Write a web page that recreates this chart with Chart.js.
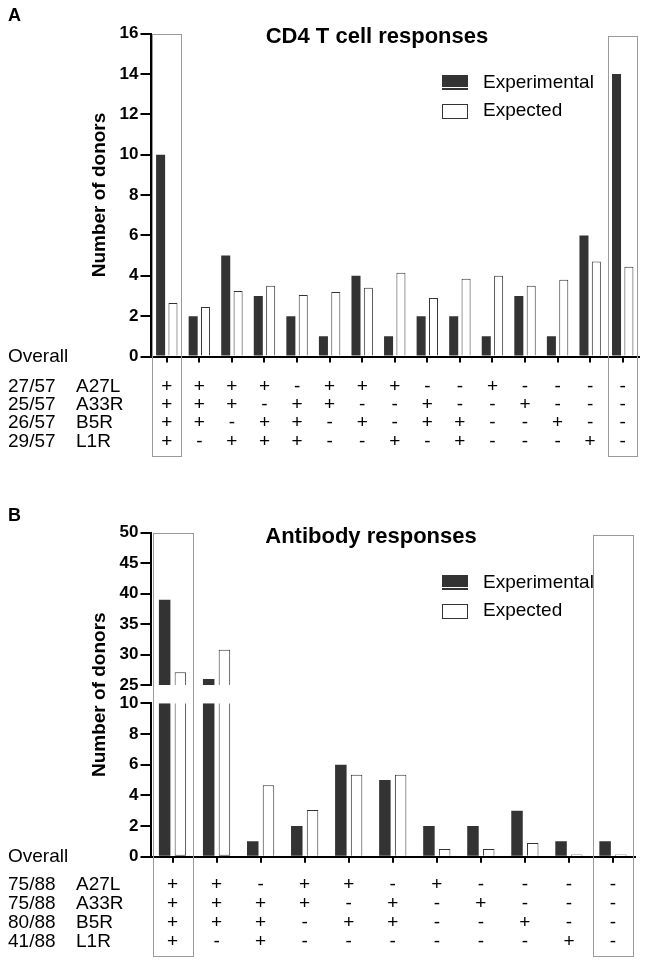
<!DOCTYPE html>
<html>
<head>
<meta charset="utf-8">
<script src="https://cdn.jsdelivr.net/npm/chart.js@4.4.1/dist/chart.umd.min.js"></script>
<style>
  html, body { margin: 0; padding: 0; background: #fff; }
  #page { position: relative; width: 645px; height: 964px; }
  .panel { position: absolute; left: 0; width: 645px; }
  #panelA { top: 0; height: 480px; }
  #panelB { top: 480px; height: 484px; }
</style>
</head>
<body>
<div id="page">
  <div class="panel" id="panelA"><canvas id="chartA"></canvas></div>
  <div class="panel" id="panelB"><canvas id="chartB"></canvas></div>
</div>
<script>
// --- panel A: CD4 T cell responses ---
const antigens = ['A27L', 'A33R', 'B5R', 'L1R'];
const overallA = ['27/57', '25/57', '26/57', '29/57'];
const a27lA = ['+', '+', '+', '+', '-', '+', '+', '+', '-', '-', '+', '-', '-', '-', '-'];
const a33rA = ['+', '+', '+', '-', '+', '+', '-', '-', '+', '-', '-', '+', '-', '-', '-'];
const b5rA  = ['+', '+', '-', '+', '+', '-', '+', '-', '+', '+', '-', '-', '+', '-', '-'];
const l1rA  = ['+', '-', '+', '+', '+', '-', '-', '+', '-', '+', '-', '-', '-', '+', '-'];
const experimentalA = [10, 2, 5, 3, 2, 1, 4, 1, 2, 2, 1, 3, 1, 6, 14];
const expectedA = [2.65, 2.45, 3.25, 3.5, 3.05, 3.2, 3.4, 4.15, 2.9, 3.85, 4.0, 3.5, 3.8, 4.7, 4.45];
const yRangeA = [0, 16, 2];

// --- panel B: antibody responses (broken axis) ---
const overallB = ['75/88', '75/88', '80/88', '41/88'];
const a27lB = ['+', '+', '-', '+', '+', '-', '+', '-', '-', '-', '-'];
const a33rB = ['+', '+', '+', '+', '-', '+', '-', '+', '-', '-', '-'];
const b5rB  = ['+', '+', '+', '-', '+', '+', '-', '-', '+', '-', '-'];
const l1rB  = ['+', '-', '+', '-', '-', '-', '-', '-', '-', '+', '-'];
const experimentalB = [39, 26, 1, 2, 6, 5, 2, 2, 3, 1, 1];
const expectedB = [27.1, 30.8, 4.65, 3.05, 5.35, 5.35, 0.5, 0.5, 0.9, 0.15, 0.15];
const yLowRangeB = [0, 10, 2];
const yHighRangeB = [25, 50, 5];

const FONT = "'Liberation Sans', Arial, Helvetica, sans-serif";
const DARK = '#333333';
const X_TICK_LEN = 6;
const AXIS_LEFT = 150.5;

function signLabels(r1, r2, r3, r4) {
    return r1.map((s, i) => [s, r2[i], r3[i], r4[i]]);
}

// texts, legend, boxes and row names round the plot
const decor = {
    id: 'decor',
    afterDraw(chart, args, o) {
        const ctx = chart.ctx;
        const area = chart.chartArea;
        const x = chart.scales.x;
        const y0 = chart.scales[o.zeroAxis].getPixelForValue(0);
        ctx.save();
        ctx.fillStyle = '#000';
        ctx.textBaseline = 'middle';

        ctx.font = 'bold 18px ' + FONT;
        ctx.textAlign = 'left';
        ctx.fillText(o.letter, 8, o.letterY);

        ctx.font = 'bold 22px ' + FONT;
        ctx.textAlign = 'center';
        ctx.fillText(o.title, o.titleX, o.titleY);

        ctx.save();
        ctx.translate(100, (area.top + area.bottom) / 2);
        ctx.rotate(-Math.PI / 2);
        ctx.font = 'bold 19px ' + FONT;
        ctx.fillText('Number of donors', 0, 0);
        ctx.restore();

        // legend
        const ly = o.legendY;
        ctx.fillStyle = DARK;
        ctx.fillRect(442, ly, 26, 15);
        ctx.strokeStyle = '#fff';
        ctx.lineWidth = 1;
        ctx.beginPath();
        ctx.moveTo(442, ly + 12.5);
        ctx.lineTo(468, ly + 12.5);
        ctx.stroke();
        ctx.strokeStyle = DARK;
        ctx.strokeRect(442.5, ly + 29.5, 25, 14);
        ctx.fillStyle = '#000';
        ctx.font = '19px ' + FONT;
        ctx.textAlign = 'left';
        ctx.fillText('Experimental', 483, ly + 8);
        ctx.fillText('Expected', 483, ly + 36);

        // row names on the left
        ctx.fillText('Overall', 8, y0);
        const rowY = i => x.top + X_TICK_LEN + o.labelPad + o.lineH * (i + 0.5);
        o.overall.forEach((t, i) => {
            ctx.fillText(t, 8, rowY(i));
            ctx.fillText(antigens[i], 76, rowY(i));
        });

        // highlight boxes round first and last column
        const n = chart.data.labels.length;
        const half = (x.getPixelForValue(1) - x.getPixelForValue(0)) * 0.45;
        const bottom = rowY(3) + 14;
        ctx.strokeStyle = '#9a9a9a';
        ctx.lineWidth = 1;
        [0, n - 1].forEach((i, k) => {
            const c = x.getPixelForValue(i);
            const top = area.top + k * 2;
            ctx.strokeRect(Math.round(c - half) + 0.5, Math.round(top) + 0.5, Math.round(2 * half), Math.round(bottom - top));
        });
        ctx.restore();
    }
};

function yAxis(range, extra) {
    return Object.assign({
        type: 'linear', axis: 'y', position: 'left', stacked: false,
        min: range[0], max: range[1],
        border: {display: true, color: '#000', width: 2},
        grid: {display: true, drawOnChartArea: false, drawTicks: true, tickLength: 10, color: '#000', lineWidth: 2},
        ticks: {stepSize: range[2], autoSkip: false, color: '#000', padding: 2,
                font: {family: FONT, size: 17, weight: 'bold'}},
        afterFit: s => { s.width = AXIS_LEFT; }
    }, extra || {});
}

function xAxis(pad, lineH, height) {
    return {
        type: 'category',
        border: {display: true, color: '#000', width: 2},
        grid: {display: true, drawOnChartArea: false, offset: false, tickLength: X_TICK_LEN, color: '#000', lineWidth: 2},
        ticks: {color: '#000', padding: pad, autoSkip: false, maxRotation: 0,
                font: {family: FONT, size: 19, lineHeight: lineH}},
        afterFit: s => { s.height = height; }
    };
}

const baseOptions = {
    responsive: true,
    maintainAspectRatio: false,
    animation: false,
    events: []
};

// panel A
new Chart(document.getElementById('chartA'), {
    type: 'bar',
    data: {
        labels: signLabels(a27lA, a33rA, b5rA, l1rA),
        datasets: [
            {label: 'Experimental', data: experimentalA, backgroundColor: DARK, borderWidth: 0,
             categoryPercentage: 0.76, barPercentage: 0.73},
            {label: 'Expected', data: expectedA, backgroundColor: '#fff', borderColor: DARK, borderWidth: 1,
             categoryPercentage: 0.76, barPercentage: 0.73}
        ]
    },
    options: Object.assign({}, baseOptions, {
        layout: {padding: {top: 33.5, right: 6, bottom: 0, left: 0}},
        scales: {
            x: xAxis(15, 18.3 / 19, 123.5),
            y: yAxis(yRangeA)
        },
        plugins: {
            legend: {display: false},
            tooltip: {enabled: false},
            decor: {letter: 'A', letterY: 16, title: 'CD4 T cell responses', titleX: 377, titleY: 37,
                    legendY: 75, overall: overallA, zeroAxis: 'y', labelPad: 15, lineH: 18.3}
        }
    }),
    plugins: [decor]
});

// panel B: lower part 0-10, upper part 25-50
const lowMax = yLowRangeB[1];
const highMin = yHighRangeB[0];
new Chart(document.getElementById('chartB'), {
    type: 'bar',
    data: {
        labels: signLabels(a27lB, a33rB, b5rB, l1rB),
        datasets: [
            {label: 'Experimental', stack: 'exp', yAxisID: 'yLow',
             data: experimentalB.map(v => Math.min(v, lowMax)),
             backgroundColor: DARK, borderWidth: 0, categoryPercentage: 0.715, barPercentage: 0.73},
            {label: 'Expected', stack: 'expd', yAxisID: 'yLow',
             data: expectedB.map(v => Math.min(v, lowMax)),
             backgroundColor: '#fff', borderColor: DARK, borderWidth: 1,
             borderSkipped: c => expectedB[c.dataIndex] > lowMax ? 'top' : 'start',
             categoryPercentage: 0.715, barPercentage: 0.73},
            {label: 'Experimental', stack: 'exp', yAxisID: 'yHigh',
             data: experimentalB.map(v => v > highMin ? [highMin, v] : null),
             backgroundColor: DARK, borderWidth: 0, categoryPercentage: 0.715, barPercentage: 0.73},
            {label: 'Expected', stack: 'expd', yAxisID: 'yHigh',
             data: expectedB.map(v => v > highMin ? [highMin, v] : null),
             backgroundColor: '#fff', borderColor: DARK, borderWidth: 1,
             categoryPercentage: 0.715, barPercentage: 0.73}
        ]
    },
    options: Object.assign({}, baseOptions, {
        layout: {padding: {top: 52.7, right: 10, bottom: 0, left: 0}},
        scales: {
            x: xAxis(12.8, 1, 107.3),
            yLow: yAxis(yLowRangeB, {stack: 'brk', stackWeight: 153.4}),
            yGap: {type: 'linear', axis: 'y', position: 'left', stack: 'brk', stackWeight: 18.3, display: false},
            yHigh: yAxis(yHighRangeB, {stack: 'brk', stackWeight: 152.3})
        },
        plugins: {
            legend: {display: false},
            tooltip: {enabled: false},
            decor: {letter: 'B', letterY: 36, title: 'Antibody responses', titleX: 371, titleY: 57,
                    legendY: 95, overall: overallB, zeroAxis: 'yLow', labelPad: 12.8, lineH: 19}
        }
    }),
    plugins: [decor]
});
</script>
</body>
</html>
